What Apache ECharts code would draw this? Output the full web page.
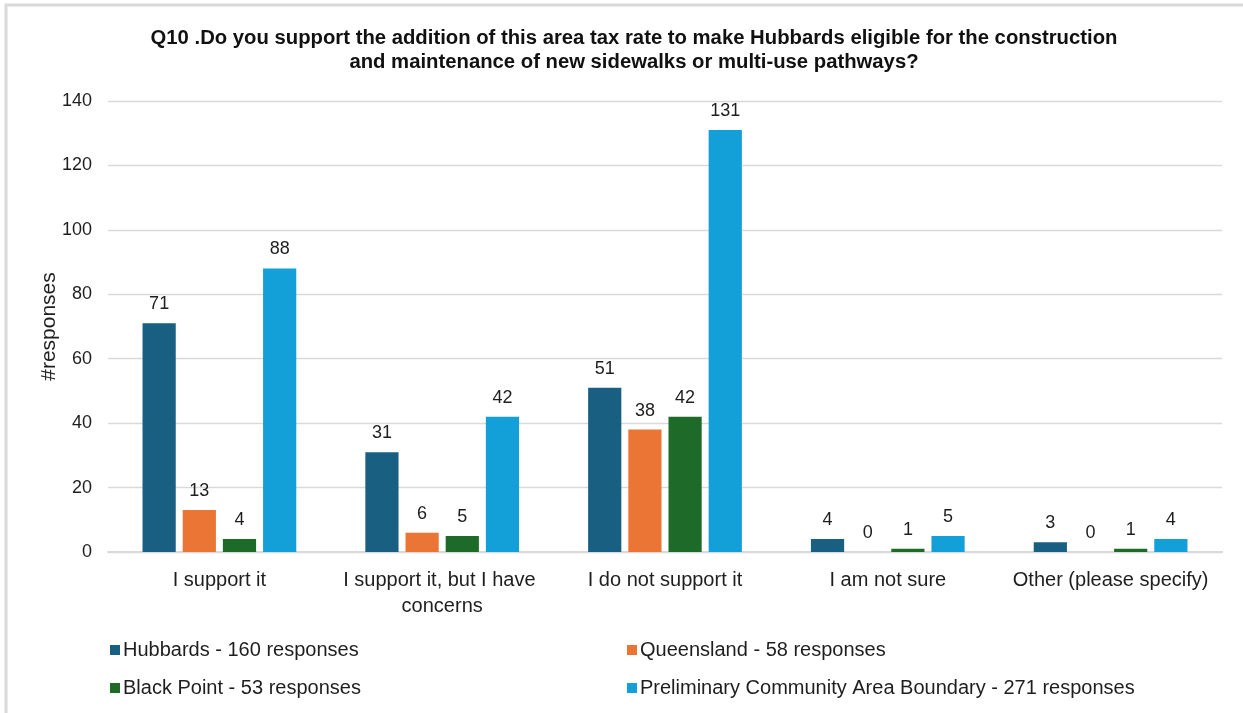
<!DOCTYPE html>
<html>
<head>
<meta charset="utf-8">
<script src="https://cdn.jsdelivr.net/npm/echarts@6/dist/echarts.min.js"></script>
<style>
  html, body { margin: 0; padding: 0; background: #fff; }
  #chart { width: 1243px; height: 713px; }
</style>
</head>
<body>
<div id="chart"></div>
<script>
// Survey answers per area
const categories = ['I support it', 'I support it, but I have concerns', 'I do not support it', 'I am not sure', 'Other (please specify)'];
const seriesNames = [
  'Hubbards - 160 responses',
  'Queensland - 58 responses',
  'Black Point - 53 responses',
  'Preliminary Community Area Boundary - 271 responses'
];
const hubbards = [71, 31, 51, 4, 3];
const queensland = [13, 6, 38, 0, 0];
const blackPoint = [4, 5, 42, 1, 1];
const preliminary = [88, 42, 131, 5, 4];
const yTicks = [0, 20, 40, 60, 80, 100, 120, 140];

const colors = ['#195f82', '#eb7535', '#1e6b29', '#139fd8'];
const values = [hubbards, queensland, blackPoint, preliminary];
const font = 'Liberation Sans, Arial, sans-serif';
const textColor = '#1e1e1e';

const chart = echarts.init(document.getElementById('chart'), null, { renderer: 'canvas' });

const legendBase = {
  orient: 'vertical',
  top: 634,
  itemWidth: 10,
  itemHeight: 10,
  itemGap: 16,
  icon: 'rect',
  textStyle: { fontFamily: font, fontSize: 20, color: textColor, lineHeight: 22, padding: [0, 0, 0, -2] }
};

chart.setOption({
  animation: false,
  backgroundColor: '#fff',
  textStyle: { fontFamily: font },
  title: {
    text: 'Q10 .Do you support the addition of this area tax rate to make Hubbards eligible for the construction\nand maintenance of new sidewalks or multi-use pathways?',
    left: 629,
    textAlign: 'center',
    top: 21,
    textStyle: { fontFamily: font, fontSize: 20.3, fontWeight: 'bold', color: '#111', lineHeight: 24 }
  },
  graphic: [{
    type: 'rect',
    shape: { x: 6, y: 5, width: 1300, height: 800 },
    style: { fill: 'none', stroke: '#d9d9d9', lineWidth: 3 },
    silent: true
  }],
  legend: [
    Object.assign({ data: [seriesNames[0], seriesNames[2]], left: 105 }, legendBase),
    Object.assign({ data: [seriesNames[1], seriesNames[3]], left: 622 }, legendBase)
  ],
  grid: { left: 108, right: 21, top: 101, bottom: 161, containLabel: false },
  xAxis: {
    type: 'category',
    data: categories,
    axisTick: { show: false },
    axisLine: { lineStyle: { color: '#d9d9d9', width: 2 } },
    axisLabel: {
      interval: 0,
      margin: 15,
      width: 215,
      overflow: 'break',
      fontFamily: font,
      fontSize: 20,
      color: textColor,
      lineHeight: 26
    }
  },
  yAxis: {
    type: 'value',
    min: yTicks[0],
    max: yTicks[yTicks.length - 1],
    interval: 20,
    name: '#responses',
    nameLocation: 'middle',
    nameGap: 48,
    nameMoveOverlap: false,
    nameRotate: 90,
    nameTextStyle: { fontFamily: font, fontSize: 21, color: textColor },
    axisLine: { show: false },
    axisTick: { show: false },
    axisLabel: { fontFamily: font, fontSize: 18, color: textColor, margin: 16 },
    splitLine: { lineStyle: { color: '#d9d9d9', width: 1.3 } }
  },
  series: seriesNames.map((name, i) => ({
    name,
    type: 'bar',
    data: values[i],
    barGap: '21%',
    barCategoryGap: '31%',
    itemStyle: { color: colors[i] },
    label: {
      show: true,
      position: 'top',
      distance: 10,
      fontFamily: font,
      fontSize: 18,
      color: textColor
    }
  }))
});
</script>
</body>
</html>
